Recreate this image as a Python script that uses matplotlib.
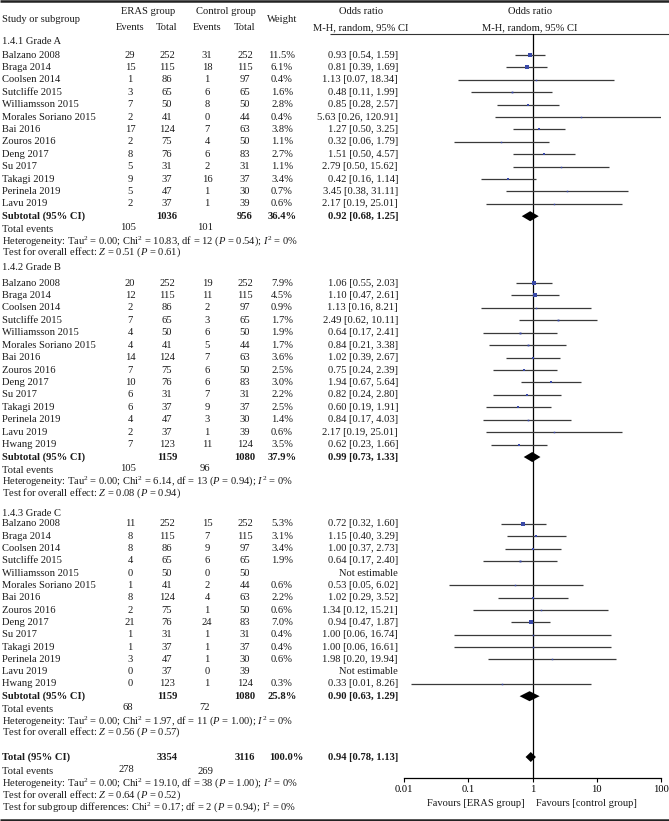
import matplotlib
matplotlib.use('Agg')
import matplotlib.pyplot as plt
import numpy as np

plt.rcParams['font.family'] = ['Liberation Serif', 'DejaVu Serif']
plt.rcParams['mathtext.fontset'] = 'custom'
plt.rcParams['mathtext.rm'] = 'Liberation Serif'
plt.rcParams['mathtext.it'] = 'Liberation Serif:italic'
plt.rcParams['mathtext.bf'] = 'Liberation Serif:bold'

# ---- data ----
a_names = ['Balzano 2008', 'Braga 2014', 'Coolsen 2014', 'Sutcliffe 2015', 'Williamsson 2015',
           'Morales Soriano 2015', 'Bai 2016', 'Zouros 2016', 'Deng 2017', 'Su 2017',
           'Takagi 2019', 'Perinela 2019', 'Lavu 2019']
a_eras_ev = [29, 15, 1, 3, 7, 2, 17, 2, 8, 5, 9, 5, 2]
a_eras_tot = [252, 115, 86, 65, 50, 41, 124, 75, 76, 31, 37, 47, 37]
a_ctrl_ev = [31, 18, 1, 6, 8, 0, 7, 4, 6, 2, 16, 1, 1]
a_ctrl_tot = [252, 115, 97, 65, 50, 44, 63, 50, 83, 31, 37, 30, 39]
a_weight = [11.5, 6.1, 0.4, 1.6, 2.8, 0.4, 3.8, 1.1, 2.7, 1.1, 3.4, 0.7, 0.6]
a_or = [0.93, 0.81, 1.13, 0.48, 0.85, 5.63, 1.27, 0.32, 1.51, 2.79, 0.42, 3.45, 2.17]
a_lo = [0.54, 0.39, 0.07, 0.11, 0.28, 0.26, 0.50, 0.06, 0.50, 0.50, 0.16, 0.38, 0.19]
a_hi = [1.59, 1.69, 18.34, 1.99, 2.57, 120.91, 3.25, 1.79, 4.57, 15.62, 1.14, 31.11, 25.01]
a_sub = [1036, 956, 36.4, 0.92, 0.68, 1.25]
a_events = [105, 101]
a_het = ['0.00', '10.83', '12', '0.54', '0']
a_z = ['0.51', '0.61']

b_names = a_names + ['Hwang 2019']
b_eras_ev = [20, 12, 2, 7, 4, 4, 14, 7, 10, 6, 6, 4, 2, 7]
b_eras_tot = [252, 115, 86, 65, 50, 41, 124, 75, 76, 31, 37, 47, 37, 123]
b_ctrl_ev = [19, 11, 2, 3, 6, 5, 7, 6, 6, 7, 9, 3, 1, 11]
b_ctrl_tot = [252, 115, 97, 65, 50, 44, 63, 50, 83, 31, 37, 30, 39, 124]
b_weight = [7.9, 4.5, 0.9, 1.7, 1.9, 1.7, 3.6, 2.5, 3.0, 2.2, 2.5, 1.4, 0.6, 3.5]
b_or = [1.06, 1.10, 1.13, 2.49, 0.64, 0.84, 1.02, 0.75, 1.94, 0.82, 0.60, 0.84, 2.17, 0.62]
b_lo = [0.55, 0.47, 0.16, 0.62, 0.17, 0.21, 0.39, 0.24, 0.67, 0.24, 0.19, 0.17, 0.19, 0.23]
b_hi = [2.03, 2.61, 8.21, 10.11, 2.41, 3.38, 2.67, 2.39, 5.64, 2.80, 1.91, 4.03, 25.01, 1.66]
b_sub = [1159, 1080, 37.9, 0.99, 0.73, 1.33]
b_events = [105, 96]
b_het = ['0.00', '6.14', '13', '0.94', '0']
b_z = ['0.08', '0.94']

c_names = a_names + ['Hwang 2019']
c_eras_ev = [11, 8, 8, 4, 0, 1, 8, 2, 21, 1, 1, 3, 0, 0]
c_eras_tot = [252, 115, 86, 65, 50, 41, 124, 75, 76, 31, 37, 47, 37, 123]
c_ctrl_ev = [15, 7, 9, 6, 0, 2, 4, 1, 24, 1, 1, 1, 0, 1]
c_ctrl_tot = [252, 115, 97, 65, 50, 44, 63, 50, 83, 31, 37, 30, 39, 124]
c_weight = [5.3, 3.1, 3.4, 1.9, None, 0.6, 2.2, 0.6, 7.0, 0.4, 0.4, 0.6, None, 0.3]
c_or = [0.72, 1.15, 1.00, 0.64, None, 0.53, 1.02, 1.34, 0.94, 1.00, 1.00, 1.98, None, 0.33]
c_lo = [0.32, 0.40, 0.37, 0.17, None, 0.05, 0.29, 0.12, 0.47, 0.06, 0.06, 0.20, None, 0.013]
c_hi = [1.60, 3.29, 2.73, 2.40, None, 6.02, 3.52, 15.21, 1.87, 16.74, 16.61, 19.94, None, 8.26]
c_sub = [1159, 1080, 25.8, 0.90, 0.63, 1.29]
c_events = [68, 72]
c_het = ['0.00', '1.97', '11', '1.00', '0']
c_z = ['0.56', '0.57']

total = [3354, 3116, 100.0, 0.94, 0.78, 1.13]
total_events = [278, 269]
total_het = ['0.00', '19.10', '38', '1.00', '0']
total_z = ['0.64', '0.52']
subgroup_diff = ['0.17', '2', '0.94', '0']

ticks = [0.01, 0.1, 1, 10, 100]
tick_labels = ['0.01', '0.1', '1', '10', '100']

# ---- layout ----
W, H = 669, 821
fig = plt.figure(figsize=(W / 100, H / 100), dpi=100)
ax = fig.add_axes([0, 0, 1, 1])
ax.set_xlim(0, W)
ax.set_ylim(H, 0)
ax.axis('off')

fx0, fx1, fy0, fy1 = 404, 661, 34, 778
fax = fig.add_axes([fx0 / W, 1 - fy1 / H, (fx1 - fx0) / W, (fy1 - fy0) / H])
fax.patch.set_alpha(0)
fax.set_xscale('log')
fax.set_xlim(0.01, 100)
fax.set_ylim(fy1, fy0)
for s in ['left', 'top', 'right']:
    fax.spines[s].set_visible(False)
fax.spines['bottom'].set_linewidth(0.9)
fax.set_yticks([])
fax.set_xticks(ticks)
fax.set_xticklabels(tick_labels)
fax.minorticks_off()
fax.tick_params(axis='x', length=3, width=0.8, labelsize=7.6, pad=2)
fax.axvline(1, color='black', lw=0.9)

fs = 7.6
X_NAME, X_EEV, X_ETOT, X_CEV, X_CTOT, X_W, X_OR = 2, 130, 167, 207, 245, 282, 398
sq_col = '#3a4aa8'
ci_col = '#3a3a3a'

ax.hlines(1.2, 0, W, color='#222222', lw=1.8)
ax.hlines(34, 330, W, color='#333333', lw=0.8)
ax.hlines(819.8, 0, W, color='#222222', lw=1.8)

def t(x, y, s, ha='center', bold=False):
    ax.text(x, y, s, ha=ha, va='center', fontsize=fs,
            fontweight='bold' if bold else 'normal', color='#1a1a1a')

t(X_NAME, 20, 'Study or subgroup', ha='left')
t(148, 12, 'ERAS group')
t(X_EEV, 28, 'Events')
t(X_ETOT, 28, 'Total')
t(226, 12, 'Control group')
t(X_CEV, 28, 'Events')
t(X_CTOT, 28, 'Total')
t(X_W, 20, 'Weight')
t(361, 12, 'Odds ratio')
t(361, 28, 'M-H, random, 95% CI')
t(530, 12, 'Odds ratio')
t(530, 28, 'M-H, random, 95% CI')


def het_text(h):
    return ('Heterogeneity: Tau$^{2}$ = %s; Chi$^{2}$ = %s, df = %s ($P$ = %s); $I^{2}$ = %s%%'
            % tuple(h))


def diamond(y, est, lo, hi, hh=5):
    fax.fill([lo, est, hi, est], [y, y - hh, y, y + hh], color='black', lw=0)


def section(label, names, eev, etot, cev, ctot, w, orr, lo, hi, sub, events, het, z,
            y_head, y_first, step):
    t(X_NAME, y_head, label, ha='left')
    for i, n in enumerate(names):
        y = y_first + i * step
        t(X_NAME, y, n, ha='left')
        t(X_EEV, y, str(eev[i]))
        t(X_ETOT, y, str(etot[i]))
        t(X_CEV, y, str(cev[i]))
        t(X_CTOT, y, str(ctot[i]))
        if orr[i] is None:
            t(X_OR, y, 'Not estimable', ha='right')
            continue
        t(X_W, y, '%.1f%%' % w[i])
        t(X_OR, y, '%.2f [%.2f, %.2f]' % (orr[i], lo[i], hi[i]), ha='right')
        fax.hlines(y, lo[i], hi[i], color=ci_col, lw=0.9)
        side = max(1.5, 4.8 * np.sqrt(w[i] / 11.5))
        fax.plot(orr[i], y, 's', ms=side * 0.72, color=sq_col, mew=0)
    ys = y_first + len(names) * step
    t(X_NAME, ys, 'Subtotal (95% CI)', ha='left', bold=True)
    t(X_ETOT, ys, str(sub[0]), bold=True)
    t(X_CTOT, ys, str(sub[1]), bold=True)
    t(X_W, ys, '%.1f%%' % sub[2], bold=True)
    t(X_OR, ys, '%.2f [%.2f, %.2f]' % (sub[3], sub[4], sub[5]), ha='right', bold=True)
    diamond(ys, sub[3], sub[4], sub[5])
    t(X_NAME, ys + 13, 'Total events', ha='left')
    t(X_EEV - 2, ys + 11, str(events[0]))
    t(X_CEV - 2, ys + 11, str(events[1]))
    t(X_NAME, ys + 24.5, het_text(het), ha='left')
    t(X_NAME, ys + 36.5, 'Test for overall effect: $Z$ = %s ($P$ = %s)' % tuple(z), ha='left')


section('1.4.1 Grade A', a_names, a_eras_ev, a_eras_tot, a_ctrl_ev, a_ctrl_tot, a_weight,
        a_or, a_lo, a_hi, a_sub, a_events, a_het, a_z, 42, 55, 12.4)
section('1.4.2 Grade B', b_names, b_eras_ev, b_eras_tot, b_ctrl_ev, b_ctrl_tot, b_weight,
        b_or, b_lo, b_hi, b_sub, b_events, b_het, b_z, 268, 283, 12.43)
section('1.4.3 Grade C', c_names, c_eras_ev, c_eras_tot, c_ctrl_ev, c_ctrl_tot, c_weight,
        c_or, c_lo, c_hi, c_sub, c_events, c_het, c_z, 513, 524, 12.3)

yt = 757
t(X_NAME, yt, 'Total (95% CI)', ha='left', bold=True)
t(X_ETOT, yt, str(total[0]), bold=True)
t(X_CTOT, yt, str(total[1]), bold=True)
t(X_W + 4, yt, '%.1f%%' % total[2], bold=True)
t(X_OR, yt, '%.2f [%.2f, %.2f]' % (total[3], total[4], total[5]), ha='right', bold=True)
diamond(yt, total[3], total[4], total[5])
t(X_NAME, yt + 15, 'Total events', ha='left')
t(X_EEV - 4, yt + 12, str(total_events[0]))
t(X_CEV - 2, yt + 14, str(total_events[1]))
t(X_NAME, yt + 26.5, het_text(total_het), ha='left')
t(X_NAME, yt + 38, 'Test for overall effect: $Z$ = %s ($P$ = %s)' % tuple(total_z), ha='left')
t(X_NAME, yt + 50.5, 'Test for subgroup differences: Chi$^{2}$ = %s; df = %s ($P$ = %s); I$^{2}$ = %s%%'
  % tuple(subgroup_diff), ha='left')

t(525, 803, 'Favours [ERAS group]', ha='right')
t(536, 803, 'Favours [control group]', ha='left')

fig.savefig('out.png', dpi=100)
